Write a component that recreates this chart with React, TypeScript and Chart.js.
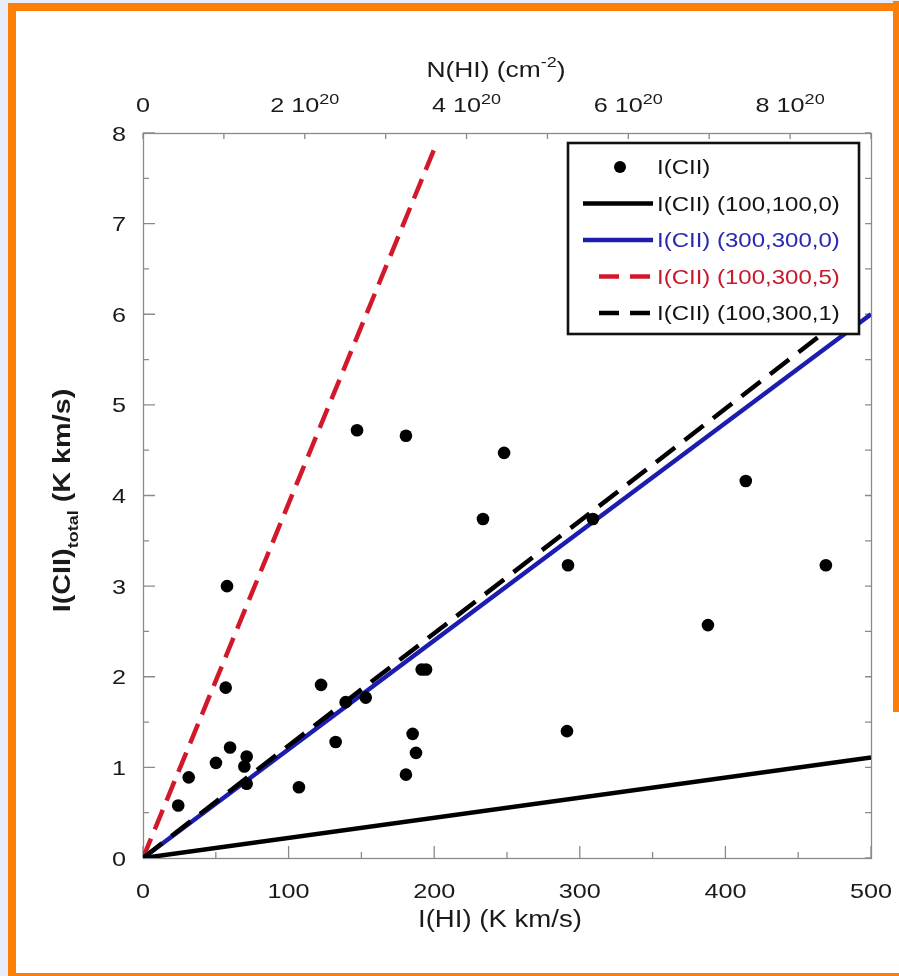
import React, { useEffect, useRef } from "react";
import { Chart, registerables } from "chart.js";

Chart.register(...registerables);

// ---- data ----
const pointIHI = [24.2, 31.4, 50.1, 56.8, 57.7, 59.8, 69.6, 71.2, 71.2, 107.1, 122.3, 132.3, 139.2, 153.0, 147.0, 180.6, 180.6, 185.2, 187.5, 191.4, 194.4, 233.5, 248.0, 291.9, 291.2, 309.0, 388.0, 414.0, 469.0];
const pointICII = [0.58, 0.89, 1.05, 1.88, 3.0, 1.22, 1.01, 1.12, 0.82, 0.78, 1.91, 1.28, 1.72, 1.77, 4.72, 4.66, 0.92, 1.37, 1.16, 2.08, 2.08, 3.74, 4.47, 3.23, 1.40, 3.74, 2.57, 4.16, 3.23];

const modelIHI = [0, 500];
const model100_100_0 = [0, 1.11];
const model300_300_0 = [0, 6.0];
const model100_300_5_IHI = [0, 202];
const model100_300_5 = [0, 7.9];
const model100_300_1_IHI = [0, 480];
const model100_300_1 = [0, 5.95];

const xTickValues = [0, 100, 200, 300, 400, 500];
const xMinorValues = [50, 150, 250, 350, 450];
const yTickValues = [0, 1, 2, 3, 4, 5, 6, 7, 8];
const yMinorValues = [0.5, 1.5, 2.5, 3.5, 4.5, 5.5, 6.5, 7.5];
const nhiTickValues = [0, 1e20, 2e20, 3e20, 4e20, 5e20, 6e20, 7e20, 8e20, 9e20];
const nhiLabelValues = [0, 2e20, 4e20, 6e20, 8e20];
const nhiLabelMantissa = ["0", "2", "4", "6", "8"];

const legendLabels = ["I(CII)", "I(CII) (100,100,0)", "I(CII) (300,300,0)", "I(CII) (100,300,5)", "I(CII) (100,300,1)"];

const BLUE = "#1c1cae";
const RED = "#d2192c";
const BLACK = "#000000";
const FONT = "'Liberation Sans', Arial, Helvetica, sans-serif";
const SX = 1.2;

type Seg = { t: string; font: string; dy: number };

function rich(ctx: CanvasRenderingContext2D, segs: Seg[], x: number, y: number, color: string, align: "left" | "center" | "right") {
  ctx.save();
  ctx.fillStyle = color;
  ctx.textBaseline = "alphabetic";
  ctx.textAlign = "left";
  let total = 0;
  const widths: number[] = [];
  for (const s of segs) {
    ctx.font = s.font;
    const w = ctx.measureText(s.t).width * SX;
    widths.push(w);
    total += w;
  }
  let cx = align === "center" ? x - total / 2 : align === "right" ? x - total : x;
  segs.forEach((s, i) => {
    ctx.font = s.font;
    ctx.save();
    ctx.translate(cx, y + s.dy);
    ctx.scale(SX, 1);
    ctx.fillText(s.t, 0, 0);
    ctx.restore();
    cx += widths[i];
  });
  ctx.restore();
}

const framePlugin = {
  id: "frameTicks",
  beforeDatasetsDraw(chart: any) {
    const ctx: CanvasRenderingContext2D = chart.ctx;
    const { left, right, top, bottom } = chart.chartArea;
    const xs = chart.scales.x;
    const ys = chart.scales.y;
    const x2 = chart.scales.x2;
    ctx.save();
    ctx.strokeStyle = "#8a8a8a";
    ctx.lineWidth = 1.3;
    ctx.strokeRect(left + 0.5, top + 0.5, right - left, bottom - top);
    ctx.beginPath();
    for (const v of xTickValues) {
      const p = xs.getPixelForValue(v);
      ctx.moveTo(p, bottom); ctx.lineTo(p, bottom - 12);
    }
    for (const v of xMinorValues) {
      const p = xs.getPixelForValue(v);
      ctx.moveTo(p, bottom); ctx.lineTo(p, bottom - 6);
    }
    for (const v of yTickValues) {
      const p = ys.getPixelForValue(v);
      ctx.moveTo(left, p); ctx.lineTo(left + 12, p);
    }
    for (const v of yMinorValues) {
      const p = ys.getPixelForValue(v);
      ctx.moveTo(left, p); ctx.lineTo(left + 6, p);
    }
    for (const v of yTickValues.concat(yMinorValues)) {
      const p = ys.getPixelForValue(v);
      ctx.moveTo(right, p); ctx.lineTo(right - 6, p);
    }
    for (const v of nhiTickValues) {
      const p = x2.getPixelForValue(v);
      ctx.moveTo(p, top); ctx.lineTo(p, top + 6);
    }
    ctx.stroke();
    ctx.restore();
  },
  afterDatasetsDraw(chart: any) {
    const ctx: CanvasRenderingContext2D = chart.ctx;
    const { left, right, top, bottom } = chart.chartArea;
    const xs = chart.scales.x;
    const ys = chart.scales.y;
    const x2 = chart.scales.x2;
    const tickFont = `21px ${FONT}`;
    const col = "#1a1a1a";

    for (const v of xTickValues) {
      rich(ctx, [{ t: String(v), font: tickFont, dy: 0 }], xs.getPixelForValue(v), bottom + 40, col, "center");
    }
    for (const v of yTickValues) {
      rich(ctx, [{ t: String(v), font: tickFont, dy: 0 }], left - 17, ys.getPixelForValue(v) + 7.5, col, "right");
    }
    nhiLabelValues.forEach((v, i) => {
      const p = x2.getPixelForValue(v);
      const segs: Seg[] = v === 0
        ? [{ t: nhiLabelMantissa[i], font: tickFont, dy: 0 }]
        : [
            { t: nhiLabelMantissa[i] + " 10", font: tickFont, dy: 0 },
            { t: "20", font: `15px ${FONT}`, dy: -8 },
          ];
      rich(ctx, segs, p, top - 21, col, "center");
    });
    rich(ctx, [{ t: "I(HI) (K km/s)", font: `23px ${FONT}`, dy: 0 }], (left + right) / 2 - 7, bottom + 69, col, "center");
    rich(ctx, [
      { t: "N(HI) (cm", font: `22px ${FONT}`, dy: 0 },
      { t: "-2", font: `15px ${FONT}`, dy: -10 },
      { t: ")", font: `22px ${FONT}`, dy: 0 },
    ], (left + right) / 2 - 11, top - 56, col, "center");
    ctx.save();
    ctx.translate(70, (top + bottom) / 2 + 5);
    ctx.rotate(-Math.PI / 2);
    rich(ctx, [
      { t: "I(CII)", font: `bold 24px ${FONT}`, dy: 0 },
      { t: "total", font: `bold 15px ${FONT}`, dy: 8 },
      { t: " (K km/s)", font: `bold 24px ${FONT}`, dy: 0 },
    ], 0, 0, col, "center");
    ctx.restore();

    // legend
    const bx = 568, by = 143, bw = 291, bh = 191;
    ctx.save();
    ctx.fillStyle = "#ffffff";
    ctx.fillRect(bx, by, bw, bh);
    ctx.strokeStyle = "#111111";
    ctx.lineWidth = 2.6;
    ctx.strokeRect(bx, by, bw, bh);
    const rows = [167, 203.5, 240, 276.5, 313];
    const colors = [BLACK, BLACK, BLUE, RED, BLACK];
    rows.forEach((ry, i) => {
      ctx.save();
      if (i === 0) {
        ctx.fillStyle = BLACK;
        ctx.beginPath();
        ctx.arc(620, ry, 6, 0, Math.PI * 2);
        ctx.fill();
      } else {
        ctx.strokeStyle = colors[i];
        ctx.lineWidth = 4.5;
        ctx.beginPath();
        if (i >= 3) {
          ctx.setLineDash([20, 11]);
          ctx.moveTo(599, ry); ctx.lineTo(650, ry);
        } else {
          ctx.moveTo(583, ry); ctx.lineTo(653, ry);
        }
        ctx.stroke();
      }
      ctx.restore();
      rich(ctx, [{ t: legendLabels[i], font: `20px ${FONT}`, dy: 0 }], 657, ry + 7, i === 2 ? "#2a2ab0" : i === 3 ? "#c81a2c" : "#151515", "left");
    });
    ctx.restore();
  },
};

export default function App() {
  const ref = useRef<HTMLCanvasElement | null>(null);
  useEffect(() => {
    if (!ref.current) return;
    const line = (xs: number[], ys: number[]) => xs.map((x, i) => ({ x, y: ys[i] }));
    const chart = new Chart(ref.current, {
      type: "scatter",
      data: {
        datasets: [
          {
            label: legendLabels[0],
            data: line(pointIHI, pointICII),
            showLine: false,
            pointRadius: 6.3,
            pointBorderWidth: 0,
            backgroundColor: BLACK,
            borderColor: BLACK,
            order: 0,
          },
          {
            label: legendLabels[4],
            data: line(model100_300_1_IHI, model100_300_1),
            showLine: true,
            borderColor: BLACK,
            borderWidth: 4.5,
            borderDash: [24, 12],
            pointRadius: 0,
            order: 1,
          },
          {
            label: legendLabels[2],
            data: line(modelIHI, model300_300_0),
            showLine: true,
            borderColor: BLUE,
            borderWidth: 4.5,
            pointRadius: 0,
            order: 2,
          },
          {
            label: legendLabels[3],
            data: line(model100_300_5_IHI, model100_300_5),
            showLine: true,
            borderColor: RED,
            borderWidth: 4.5,
            borderDash: [21, 10],
            pointRadius: 0,
            order: 3,
          },
          {
            label: legendLabels[1],
            data: line(modelIHI, model100_100_0),
            showLine: true,
            borderColor: BLACK,
            borderWidth: 4.5,
            pointRadius: 0,
            order: 4,
          },
        ],
      },
      options: {
        animation: false,
        responsive: false,
        devicePixelRatio: 1,
        layout: { padding: { left: 0, top: 0, bottom: 0, right: 28 } },
        plugins: { legend: { display: false }, tooltip: { enabled: false } },
        events: [],
        scales: {
          x: {
            type: "linear",
            position: "bottom",
            min: 0,
            max: 500,
            ticks: { display: false, stepSize: 100 },
            grid: { display: false },
            border: { display: false },
            afterFit: (s: any) => { s.height = 118; },
          },
          x2: {
            type: "linear",
            position: "top",
            min: 0,
            max: 9e20,
            ticks: { display: false, stepSize: 1e20 },
            grid: { display: false },
            border: { display: false },
            afterFit: (s: any) => { s.height = 133; },
          },
          y: {
            type: "linear",
            position: "left",
            min: 0,
            max: 8,
            ticks: { display: false, stepSize: 1 },
            grid: { display: false },
            border: { display: false },
            afterFit: (s: any) => { s.width = 143; },
          },
        },
      } as any,
      plugins: [framePlugin],
    });
    return () => chart.destroy();
  }, []);

  return (
    <div style={{ position: "absolute", left: 0, top: 0, width: 899, height: 976, background: "#e7eef9", overflow: "hidden" }}>
      <div style={{ position: "absolute", left: 8, top: 3, width: 891, height: 973, background: "#fd7e06" }} />
      <div style={{ position: "absolute", left: 16, top: 11, width: 883, height: 962, background: "#ffffff" }} />
      <div style={{ position: "absolute", left: 893, top: 1, width: 6, height: 711, background: "#fd7e06" }} />
      <canvas ref={ref} width={899} height={976} style={{ position: "absolute", left: 0, top: 0, width: 899, height: 976 }} />
    </div>
  );
}
